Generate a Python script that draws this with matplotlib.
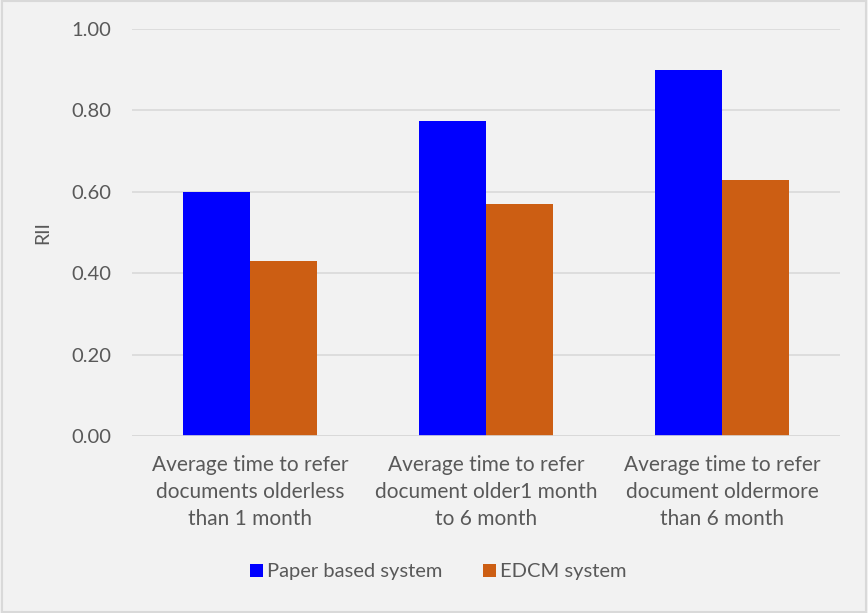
import numpy as np
import matplotlib.pyplot as plt
from matplotlib.patches import Rectangle

plt.rcParams['font.family'] = ['Lato', 'DejaVu Sans']

categories = [
    "Average time to refer\ndocuments olderless\nthan 1 month",
    "Average time to refer\ndocument older1 month\nto 6 month",
    "Average time to refer\ndocument oldermore\nthan 6 month",
]
paper_based = [0.60, 0.775, 0.90]
edcm = [0.43, 0.57, 0.63]
yticks = [0.0, 0.2, 0.4, 0.6, 0.8, 1.0]

text_color = '#595959'
grid_color = '#D9D9D9'
bg = '#F2F2F2'

fig = plt.figure(figsize=(8.68, 6.13), dpi=100, facecolor=bg)
ax = fig.add_axes([0.152, 0.2887, 0.816, 0.664], facecolor=bg)

x = np.arange(len(categories))
w = 0.284
ax.bar(x - w / 2, paper_based, w, color='#0000FF', label='Paper based system', zorder=3)
ax.bar(x + w / 2, edcm, w, color='#CC5E13', label='EDCM system', zorder=3)

ax.set_xlim(-0.5, len(categories) - 0.5)
ax.set_ylim(0, 1.0)
ax.set_yticks(yticks)
ax.set_yticklabels([f"{v:.2f}" for v in yticks], fontsize=14.5)
ax.set_xticks(x)
ax.set_xticklabels(categories, linespacing=1.42, fontsize=15)
ax.tick_params(axis='both', length=0, colors=text_color)
ax.tick_params(axis='y', pad=15)
ax.tick_params(axis='x', pad=14)
ax.yaxis.grid(True, color=grid_color, linewidth=1.2, zorder=0)
for s in ax.spines.values():
    s.set_visible(False)
ax.axhline(0, color=grid_color, linewidth=1.2, zorder=4)

ax.set_ylabel('RII', color=text_color, fontsize=14, labelpad=14)

fig.legend(loc='center', bbox_to_anchor=(0.505, 0.067), ncol=2, frameon=False,
           fontsize=14.5, labelcolor=text_color, handlelength=0.65, handleheight=0.65,
           handletextpad=0.2, columnspacing=2.0)

# outer chart border
fig.patches.append(Rectangle((0.002, 0.002), 0.996, 0.996, transform=fig.transFigure,
                             fill=False, edgecolor=grid_color, linewidth=1.5))

fig.savefig('out.png', dpi=100, facecolor=bg)
